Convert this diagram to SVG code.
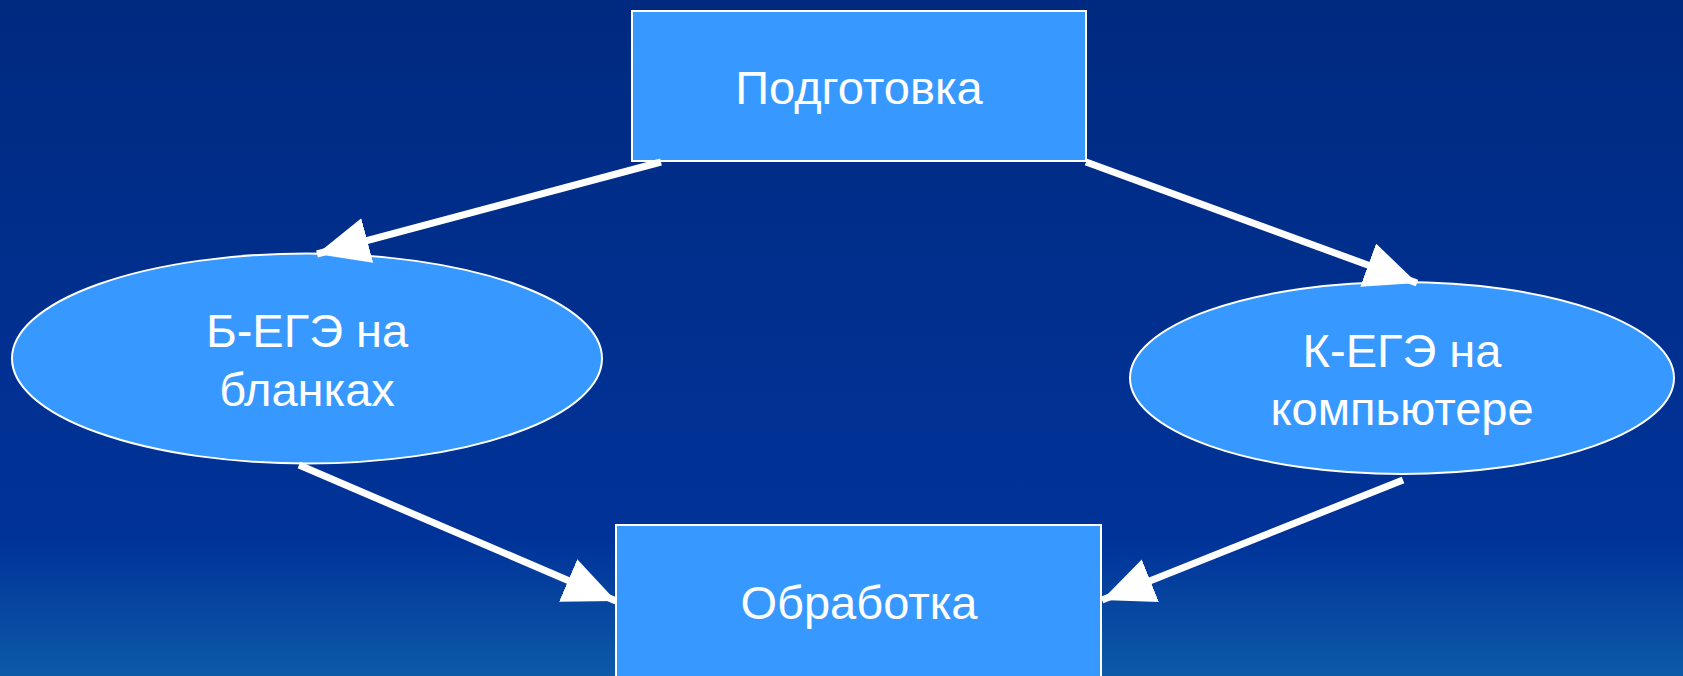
<svg xmlns="http://www.w3.org/2000/svg" width="1683" height="676" viewBox="0 0 1683 676">
<defs>
<linearGradient id="bg" x1="0" y1="0" x2="0" y2="1">
<stop offset="0" stop-color="#002a80"/>
<stop offset="0.8" stop-color="#003399"/>
<stop offset="1" stop-color="#0d5aa8"/>
</linearGradient>
<marker id="ah" markerUnits="userSpaceOnUse" markerWidth="58" markerHeight="48" refX="52" refY="23" orient="auto">
<path d="M0,0 L52,23 L0,46 Z" fill="#ffffff"/>
</marker>
<style>
.box{fill:#3799ff;stroke:#ffffff;stroke-width:2}
.lbl{font-family:"Liberation Sans",Arial,sans-serif;font-size:47px;fill:#ffffff;text-anchor:middle}
.con{stroke:#ffffff;stroke-width:7;fill:none;marker-end:url(#ah)}
</style>
</defs>
<rect x="0" y="0" width="1683" height="676" fill="url(#bg)"/>
<g id="n1"><rect class="box" x="632" y="11" width="454" height="150"/><text class="lbl" x="859" y="104">Подготовка</text></g>
<g id="n2"><ellipse class="box" cx="307" cy="358.5" rx="295" ry="105"/><text class="lbl" x="307" y="347">Б-ЕГЭ на</text><text class="lbl" x="307" y="406">бланках</text></g>
<g id="n3"><ellipse class="box" cx="1402" cy="378" rx="272" ry="96"/><text class="lbl" x="1402" y="367">К-ЕГЭ на</text><text class="lbl" x="1402" y="425">компьютере</text></g>
<g id="n4"><rect class="box" x="616" y="525" width="485" height="160"/><text class="lbl" x="859" y="619">Обработка</text></g>
<g id="connectors">
<line class="con" x1="661" y1="162" x2="317" y2="254"/>
<line class="con" x1="1086" y1="162" x2="1417" y2="283"/>
<line class="con" x1="299" y1="465" x2="616" y2="601"/>
<line class="con" x1="1403" y1="480" x2="1102" y2="600"/>
</g>
</svg>
